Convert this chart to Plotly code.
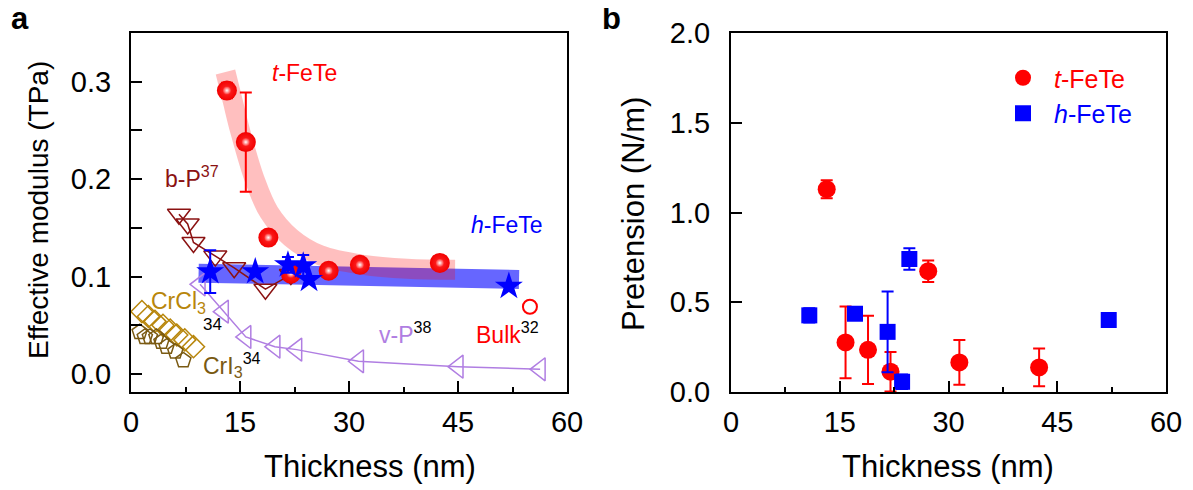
import plotly.graph_objects as go

FONT = "Liberation Sans, Arial, sans-serif"
# the page body adds an 8 px margin, so the figure is 8 px smaller and offset
OFF = 8
W, H = 1193 - OFF, 490 - OFF


def fx(px):
    return (px - OFF) / W


def fy(py):
    return 1 - (py - OFF) / H


# ---------------- data ----------------
# panel a: effective modulus (TPa) vs thickness (nm)
tfete_t = [13.2, 15.8, 18.9, 22.0, 27.2, 31.5, 42.5]
tfete_E = [0.291, 0.238, 0.140, 0.103, 0.106, 0.112, 0.114]
tfete_E_err = [0.008, 0.051, 0.0, 0.006, 0.006, 0.0, 0.0]

hfete_t = [10.9, 17.1, 21.6, 23.7, 24.5, 52.0]
hfete_E = [0.105, 0.105, 0.112, 0.111, 0.097, 0.090]
hfete_E_err = [0.022, 0.0, 0.008, 0.011, 0.0, 0.0]

bP_t = [6.6, 7.8, 8.6, 11.6, 14.2, 18.5, 22.0]
bP_E = [0.164, 0.154, 0.135, 0.121, 0.109, 0.087, 0.102]

vP_t = [9.5, 12.7, 15.8, 19.8, 22.8, 31.3, 45.0, 56.3]
vP_E = [0.092, 0.064, 0.038, 0.028, 0.025, 0.013, 0.0075, 0.0048]

crcl3_t = [1.5, 2.4, 3.3, 4.4, 5.4, 6.3, 7.4, 8.6]
crcl3_E = [0.064, 0.059, 0.054, 0.050, 0.045, 0.040, 0.035, 0.028]

cri3_t = [1.2, 1.9, 2.6, 3.5, 4.2, 4.9, 6.1, 7.2]
cri3_E = [0.043, 0.038, 0.038, 0.038, 0.033, 0.028, 0.023, 0.014]

bulk_t = [54.9]
bulk_E = [0.069]

# guide-to-the-eye bands
tguide_t = [13.0, 14.0, 15.0, 17.0, 19.0, 22.0, 26.0, 32.0, 38.0, 44.6]
tguide_E = [0.310, 0.280, 0.250, 0.200, 0.166, 0.140, 0.122, 0.112, 0.108, 0.107]
hguide_t = [9.3, 53.4]
hguide_E = [0.1035, 0.097]

# panel b: pretension (N/m)
tfete_P = [1.13, 0.276, 0.235, 0.113, 0.673, 0.165, 0.137]
tfete_P_err = [0.05, 0.20, 0.19, 0.11, 0.06, 0.125, 0.105]
hfete_tb = [10.8, 17.1, 21.6, 23.6, 24.6, 52.1]
hfete_P = [0.427, 0.436, 0.335, 0.057, 0.741, 0.401]
hfete_P_err = [0.04, 0.03, 0.225, 0.04, 0.06, 0.0]

x_ticks = [0, 15, 30, 45, 60]
ya_ticks = [0.0, 0.1, 0.2, 0.3]
yb_ticks = [0.0, 0.5, 1.0, 1.5, 2.0]

# ---------------- colours ----------------
RED = "#ff0000"
BLUE = "#0000ff"
MAROON = "#8b1212"
VIOLET = "#b07ee2"
GOLD = "#b8860b"
BROWN = "#7a5a12"

fig = go.Figure()

# bands
fig.add_trace(go.Scatter(x=hguide_t, y=hguide_E, mode="lines",
                         line=dict(color="rgba(0,0,255,0.6)", width=19),
                         showlegend=False, hoverinfo="skip", xaxis="x", yaxis="y"))
fig.add_trace(go.Scatter(x=tguide_t, y=tguide_E, mode="lines",
                         line=dict(color="rgba(255,0,0,0.25)", width=20, shape="spline", smoothing=1.0),
                         showlegend=False, hoverinfo="skip", xaxis="x", yaxis="y"))

# reference data sets
fig.add_trace(go.Scatter(x=crcl3_t, y=crcl3_E, mode="markers",
                         marker=dict(symbol="diamond-open", size=17, color=GOLD, line=dict(width=1.5)),
                         showlegend=False, xaxis="x", yaxis="y"))
fig.add_trace(go.Scatter(x=cri3_t, y=cri3_E, mode="markers",
                         marker=dict(symbol="pentagon-open", size=16, color=BROWN, line=dict(width=1.5)),
                         showlegend=False, xaxis="x", yaxis="y"))
fig.add_trace(go.Scatter(x=vP_t, y=vP_E, mode="lines+markers",
                         line=dict(color=VIOLET, width=1.5),
                         marker=dict(symbol="triangle-left-open", size=20, color=VIOLET, line=dict(width=1.5)),
                         showlegend=False, xaxis="x", yaxis="y"))
fig.add_trace(go.Scatter(x=bP_t, y=bP_E, mode="lines+markers",
                         line=dict(color=MAROON, width=1.5),
                         marker=dict(symbol="triangle-down-open", size=20, color=MAROON, line=dict(width=1.5)),
                         showlegend=False, xaxis="x", yaxis="y"))

# t-FeTe spheres
fig.add_trace(go.Scatter(x=tfete_t, y=tfete_E, mode="markers",
                         error_y=dict(type="data", array=tfete_E_err, color=RED, thickness=2, width=6),
                         marker=dict(symbol="circle", size=20, color="#f20000", line=dict(width=0),
                                     gradient=dict(type="radial", color="#ff2a2a")),
                         showlegend=False, xaxis="x", yaxis="y"))
fig.add_trace(go.Scatter(x=tfete_t, y=tfete_E, mode="markers",
                         marker=dict(symbol="circle", size=8, color="#ff3030", line=dict(width=0),
                                     gradient=dict(type="radial", color="#ffffff")),
                         showlegend=False, hoverinfo="skip", xaxis="x", yaxis="y"))

# h-FeTe stars
fig.add_trace(go.Scatter(x=hfete_t, y=hfete_E, mode="markers",
                         error_y=dict(type="data", array=hfete_E_err, color=BLUE, thickness=2, width=6),
                         marker=dict(symbol="star", size=21, color=BLUE, line=dict(width=0)),
                         showlegend=False, xaxis="x", yaxis="y"))

# bulk
fig.add_trace(go.Scatter(x=bulk_t, y=bulk_E, mode="markers",
                         marker=dict(symbol="circle-open", size=14, color=RED, line=dict(width=2)),
                         showlegend=False, xaxis="x", yaxis="y"))

# panel b
fig.add_trace(go.Scatter(x=tfete_t, y=tfete_P, mode="markers",
                         name='<span style="color:#ff0000"><i>t</i>-FeTe</span>',
                         error_y=dict(type="data", array=tfete_P_err, color=RED, thickness=2, width=6),
                         marker=dict(symbol="circle", size=18, color=RED, line=dict(width=0)),
                         xaxis="x2", yaxis="y2"))
fig.add_trace(go.Scatter(x=hfete_tb, y=hfete_P, mode="markers",
                         name='<span style="color:#0000ff"><i>h</i>-FeTe</span>',
                         error_y=dict(type="data", array=hfete_P_err, color=BLUE, thickness=2, width=6),
                         marker=dict(symbol="square", size=16, color=BLUE, line=dict(width=0)),
                         xaxis="x2", yaxis="y2"))

tickfont = dict(family=FONT, size=29, color="black")
common_x = dict(range=[0, 60], tickvals=x_ticks, ticks="inside", ticklen=11, tickwidth=2,
                tickcolor="black", showline=True, linewidth=2, linecolor="black", mirror=True,
                showgrid=False, zeroline=False, tickfont=tickfont, ticklabelstandoff=3,
                automargin=False,
                minor=dict(dtick=7.5, tick0=0, ticks="inside", ticklen=5, tickwidth=2,
                           tickcolor="black", showgrid=False))

fig.update_layout(
    width=W, height=H,
    margin=dict(l=0, r=0, t=0, b=0, pad=0, autoexpand=False),
    paper_bgcolor="white", plot_bgcolor="white",
    font=dict(family=FONT, color="black"),
    xaxis=dict(domain=[fx(131), fx(567)], anchor="y", **common_x),
    yaxis=dict(domain=[fy(392), fy(33)], anchor="x", range=[-0.0185, 0.35],
               tickvals=ya_ticks, ticktext=["0.0", "0.1", "0.2", "0.3"],
               ticks="inside", ticklen=11, tickwidth=2, tickcolor="black",
               showline=True, linewidth=2, linecolor="black", mirror=True,
               showgrid=False, zeroline=False, tickfont=tickfont, ticklabelstandoff=12,
               automargin=False,
               minor=dict(tickvals=[0.05, 0.15, 0.25], ticks="inside", ticklen=11, tickwidth=2,
                          tickcolor="black", showgrid=False)),
    xaxis2=dict(domain=[fx(731), fx(1166)], anchor="y2", **common_x),
    yaxis2=dict(domain=[fy(392), fy(33)], anchor="x2", range=[0, 2.0],
                tickvals=yb_ticks, ticktext=["0.0", "0.5", "1.0", "1.5", "2.0"],
                ticks="inside", ticklen=11, tickwidth=2, tickcolor="black",
                showline=True, linewidth=2, linecolor="black", mirror=True,
                showgrid=False, zeroline=False, tickfont=tickfont, ticklabelstandoff=13,
                automargin=False),
    legend=dict(x=fx(992), y=fy(55), xanchor="left", yanchor="top",
                font=dict(family=FONT, size=25), bgcolor="rgba(0,0,0,0)",
                itemwidth=52),
    showlegend=True,
)

ann = []


def txt(text, x, y, size=23, color="black", xanchor="left", xref="x", yref="y",
        yanchor="middle", **kw):
    ann.append(dict(text=text, x=x, y=y, xref=xref, yref=yref, showarrow=False,
                    xanchor=xanchor, yanchor=yanchor,
                    font=dict(family=FONT, size=size, color=color), **kw))


# in-plot labels (panel a)
txt("<i>t</i>-FeTe", 19.1, 0.309, color=RED)
txt("b-P<sup>37</sup>", 4.4, 0.202, color=MAROON)
txt("<i>h</i>-FeTe", 46.5, 0.153, color=BLUE)
txt("CrCl<sub>3</sub>", 2.5, 0.073, color=GOLD)
txt("34", 9.6, 0.051, size=17, color="black")
txt('CrI<sub>3</sub><sup><span style="color:black">34</span></sup>', 9.6, 0.009, color=BROWN)
txt('v-P<sup><span style="color:black">38</span></sup>', 33.8, 0.042, color=VIOLET)
txt('Bulk<sup><span style="color:black">32</span></sup>', 47.2, 0.042, color=RED)

# axis titles and panel letters (paper coords)
txt("Thickness (nm)", fx(370), fy(466), size=31, xanchor="center", xref="paper", yref="paper")
txt("Thickness (nm)", fx(948), fy(466), size=31, xanchor="center", xref="paper", yref="paper")
txt("Effective modulus (TPa)", fx(38), fy(210), size=28, xanchor="center", xref="paper",
    yref="paper", textangle=-90)
txt("Pretension (N/m)", fx(633), fy(214), size=31, xanchor="center", xref="paper",
    yref="paper", textangle=-90)
txt("<b>a</b>", fx(9), fy(38), size=31, xref="paper", yref="paper", yanchor="bottom")
txt("<b>b</b>", fx(600), fy(38), size=31, xref="paper", yref="paper", yanchor="bottom")

fig.update_layout(annotations=ann)
fig.write_html("out.html")
